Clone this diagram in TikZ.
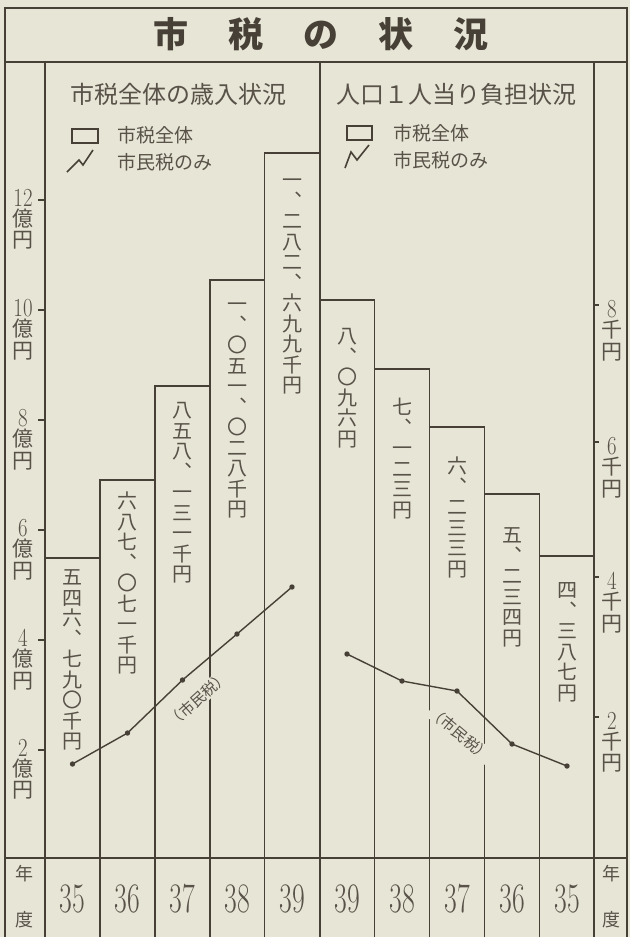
\documentclass[tikz,border=0pt]{standalone}
\usepackage{graphicx}
\usepackage{fontspec}
\newfontfamily\jp{Noto Sans CJK JP}
\newfontfamily\jpv[RawFeature={+vert}]{Noto Sans CJK JP}
\definecolor{paper}{RGB}{231,229,213}
\definecolor{ink}{RGB}{70,64,54}
\definecolor{txt}{RGB}{88,82,72}
\makeatletter
% vertical stack of characters: #1 font size, #2 pitch, #3 text
\newcommand\vstack[3]{\vbox{\jpv\fontsize{#1}{#2}\selectfont\baselineskip=#2pt\relax\lineskiplimit=-100pt\relax
  \@tfor\vs@c:=#3\do{\hbox to #1pt{\hss\vs@c\hss\vrule height .88em depth .12em width 0pt}}}}
\makeatother
% axis label: number, two kanji
\newcommand\axl[3]{\vbox{\offinterlineskip
  \hbox to 26pt{\hss\fontsize{26}{26}\selectfont\scalebox{0.8}[1]{#1}\hss}\kern2pt
  \hbox to 26pt{\hss\jp\fontsize{21}{21}\selectfont\vrule height 18pt depth 3pt width 0pt #2\hss}\kern0.5pt
  \hbox to 26pt{\hss\jp\fontsize{21}{21}\selectfont\vrule height 18pt depth 3pt width 0pt #3\hss}}}
\newcommand\bnum[1]{\fontsize{42}{42}\selectfont\scalebox{0.66}[1]{#1}}
\begin{document}
\begin{tikzpicture}[x=1pt,y=-1pt,
  frame/.style={draw=ink, line width=2pt},
  barline/.style={draw=ink, line width=1.8pt},
  tick/.style={draw=ink, line width=1.4pt},
  chart/.style={draw=ink, line width=1.4pt},
  dotp/.style={fill=ink},
  vlab/.style={inner sep=0pt, anchor=north, text=txt},
  alab/.style={inner sep=0pt, anchor=north, text=txt},
  ynum/.style={inner sep=0pt, anchor=center, text=txt},
  kan/.style={inner sep=0pt, anchor=center, text=txt, font=\jp\fontsize{18}{18}\selectfont},
  head/.style={inner sep=0pt, text=txt, font=\jp\fontsize{24}{24}\selectfont},
  leg/.style={inner sep=0pt, anchor=west, text=txt, font=\jp\fontsize{19}{19}\selectfont},
  shimin/.style={inner sep=1pt, fill=paper, text=txt, font=\jp\fontsize{15}{15}\selectfont}]
\useasboundingbox (0,0) rectangle (630,937);
\fill[paper] (0,0) rectangle (630,937);

% bars (left: revenue, right: per capita)
\draw[barline] (45,937) -- (45,558) -- (100,558) -- (100,937);
\draw[barline] (100,937) -- (100,480) -- (155,480) -- (155,937);
\draw[barline] (155,937) -- (155,386) -- (210,386) -- (210,937);
\draw[barline] (210,937) -- (210,280) -- (264.5,280) -- (264.5,937);
\draw[barline] (264.5,937) -- (264.5,153) -- (319.5,153) -- (319.5,937);
\draw[barline] (319.5,937) -- (319.5,300) -- (374.5,300) -- (374.5,937);
\draw[barline] (374.5,937) -- (374.5,369) -- (429.5,369) -- (429.5,937);
\draw[barline] (429.5,937) -- (429.5,427) -- (484.5,427) -- (484.5,937);
\draw[barline] (484.5,937) -- (484.5,494) -- (539.5,494) -- (539.5,937);
\draw[barline] (539.5,937) -- (539.5,556) -- (594,556) -- (594,937);

% frame
\draw[frame] (5,937) -- (5,8) -- (627,8) -- (627,937);
\draw[frame] (5,62) -- (627,62);
\draw[frame] (45,62) -- (45,937);
\draw[frame] (319.5,62) -- (319.5,937);
\draw[frame] (594,62) -- (594,937);
\draw[frame] (5,858) -- (627,858);

% title
\node[inner sep=0pt, text=ink, font=\jp\bfseries\fontsize{35}{35}\selectfont] (title) at (321,34)
  {市\hspace{40pt}税\hspace{40pt}の\hspace{40pt}状\hspace{40pt}況};

% headers
\node[head] (hl) at (178,94) {市税全体の歳入状況};
\node[head] (hr) at (456,94) {人口１人当り負担状況};

% legends
\draw[ink, line width=1.7pt] (72,129) rectangle (98,143);
\draw[ink, line width=1.6pt] (67,172) -- (79,160) -- (83,165) -- (93,150);
\node[leg] (lg1) at (117,135) {市税全体};
\node[leg] (lg2) at (117,162) {市民税のみ};
\draw[ink, line width=1.7pt] (347,126) rectangle (372,140);
\draw[ink, line width=1.6pt] (345,168) -- (351,152) -- (357,160) -- (369,145);
\node[leg] (lg3) at (393,133) {市税全体};
\node[leg] (lg4) at (393,160) {市民税のみ};

% left axis ticks and labels
\foreach \v/\y in {12/200,10/310,8/420,6/530,4/640,2/750}{
  \draw[tick] (38,\y) -- (45,\y);
  \node[alab] (la\v) at (23,\y-11) {\axl{\v}{億}{円}};
}
% right axis ticks and labels
\foreach \v/\y in {8/305,6/442,4/577,2/717}{
  \draw[tick] (594,\y) -- (599,\y);
  \node[alab] (ra\v) at (612,\y-5) {\axl{\v}{千}{円}};
}

% bar labels
\node[vlab] (t1) at (72.5,567) {\vstack{20}{20.5}{五四六、七九〇千円}};
\node[vlab] (t2) at (127.5,491) {\vstack{20}{20.5}{六八七、〇七一千円}};
\node[vlab] (t3) at (182.5,400) {\vstack{20}{20.5}{八五八、一三一千円}};
\node[vlab] (t4) at (237,294) {\vstack{20}{20.5}{一、〇五一、〇二八千円}};
\node[vlab] (t5) at (292,170) {\vstack{20}{20.5}{一、二八二、六九九千円}};
\node[vlab] (t6) at (347,326) {\vstack{20}{20.5}{八、〇九六円}};
\node[vlab] (t7) at (402,397) {\vstack{20}{20.5}{七、一二三円}};
\node[vlab] (t8) at (457,456) {\vstack{20}{20.5}{六、二三三円}};
\node[vlab] (t9) at (512,525) {\vstack{20}{20.5}{五、二三四円}};
\node[vlab] (t10) at (567,580) {\vstack{20}{20.5}{四、三八七円}};

% line charts
\coordinate (a1) at (72.5,764);
\coordinate (a2) at (127.5,733);
\coordinate (a3) at (182.5,680);
\coordinate (a4) at (237,634);
\coordinate (a5) at (292,587);
\coordinate (b1) at (347,654);
\coordinate (b2) at (402,681);
\coordinate (b3) at (457,691);
\coordinate (b4) at (512,744);
\coordinate (b5) at (567,766);
\draw[chart] (a1) -- (a2) -- (a3) -- (a4) -- (a5);
\draw[chart] (b1) -- (b2) -- (b3) -- (b4) -- (b5);
\foreach \p in {a1,a2,a3,a4,a5,b1,b2,b3,b4,b5}{\fill[dotp] (\p) circle (2.7pt);}
\node[shimin, rotate=42] (sl) at (198,699) {（市民税）};
\node[shimin, rotate=-40] (sr) at (460,734) {（市民税）};

% year row
\node[kan] (y1a) at (25,874) {年};
\node[kan] (y1b) at (25,920) {度};
\node[kan] (y2a) at (611,874) {年};
\node[kan] (y2b) at (611,920) {度};
\foreach \n/\x/\yr in {c1/72.5/35,c2/127.5/36,c3/182.5/37,c4/237/38,c5/292/39,c6/347/39,c7/402/38,c8/457/37,c9/512/36,c10/567/35}{
  \node[ynum] (\n) at (\x,899) {\bnum{\yr}};
}
\end{tikzpicture}
\end{document}
